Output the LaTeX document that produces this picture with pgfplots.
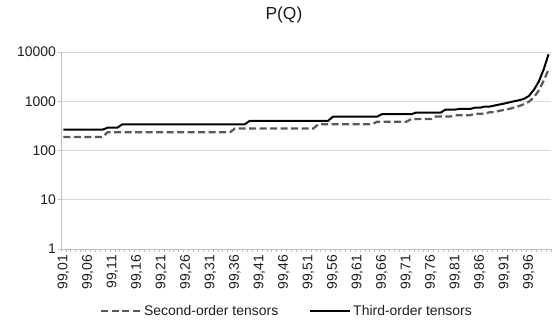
\documentclass[border=0pt]{standalone}
\usepackage{fontspec}
\setmainfont{Liberation Sans}
\usepackage{pgfplots}
\pgfplotsset{compat=1.18}
\usetikzlibrary{calc}
\definecolor{gridc}{RGB}{217,217,217}
\definecolor{axc}{RGB}{191,191,191}
\definecolor{dashc}{RGB}{89,89,89}
\definecolor{txt}{RGB}{30,30,30}
\begin{document}
\begin{tikzpicture}
\begin{axis}[
 scale only axis, width=490bp, height=197bp,
 ymode=log, ymin=1, ymax=10000,
 xmin=-0.5, xmax=99.5,
 axis x line*=bottom, axis y line*=left,
 axis line style={axc, line width=0.8bp, -},
 ytick={1,10,100,1000,10000},
 yticklabels={1,10,100,1000,10000},
 yminorticks=false,
 ymajorgrids, grid style={gridc, line width=0.8bp},
 xtick={0,5,...,95},
 xticklabels={{99,01},{99,06},{99,11},{99,16},{99,21},{99,26},{99,31},{99,36},{99,41},{99,46},{99,51},{99,56},{99,61},{99,66},{99,71},{99,76},{99,81},{99,86},{99,91},{99,96}},
 minor xtick={-0.5,0.5,...,99.5},
 tick align=outside,
 major tick length=3bp, minor tick length=3bp,
 major x tick style={draw=none},
 minor x tick style={axc, line width=0.6bp},
 major y tick style={axc, line width=0.8bp},
 tick label style={font=\fontsize{14}{16}\selectfont, text=txt},
 yticklabel style={inner sep=2bp},
 xticklabel style={rotate=90, anchor=east, inner sep=2.5bp},
 title={P(Q)},
 title style={font=\fontsize{17.5}{20}\selectfont, text=txt, at={(0.455,1)}, anchor=center, yshift=31bp},
 legend columns=2,
 legend style={at={(0.461,0)}, anchor=center, yshift=-62bp, draw=none, fill=none,
   font=\fontsize{14}{16}\selectfont, text=txt,
   /tikz/every even column/.append style={column sep=29bp}},
 legend image code/.code={\draw[#1] (0bp,0bp) -- (40bp,0bp);},
]
\addplot[dashc, line width=2.2bp, dash pattern=on 7bp off 3.5bp] coordinates {
(0,188)(8,188)(9,235)(34,235)(35,280)(51,280)(52,340)(63,340)(64,385)(70,385)(71,435)(75,435)(76,490)(79,490)(80,520)(83,520)(84,560)(86,560)(87,600)(88,600)(89,640)(90,670)(91,700)(92,750)(93,800)(94,870)(95,980)(96,1200)(97,1650)(98,2600)(99,4400)
};
\addlegendentry{Second-order tensors}
\addplot[black, line width=2bp] coordinates {
(0,265)(8,265)(9,290)(11,290)(12,340)(37,340)(38,400)(54,400)(55,485)(64,485)(65,545)(71,545)(72,590)(77,590)(78,680)(80,680)(81,700)(83,700)(84,740)(85,740)(86,780)(87,780)(88,820)(89,860)(90,900)(91,950)(92,1000)(93,1050)(94,1120)(95,1280)(96,1700)(97,2500)(98,4400)(99,9000)
};
\addlegendentry{Third-order tensors}
\end{axis}
\pgfresetboundingbox
\path ($(current axis.south west)+(-61bp,-75bp)$) rectangle ($(current axis.north east)+(1bp,52bp)$);
\end{tikzpicture}
\end{document}
